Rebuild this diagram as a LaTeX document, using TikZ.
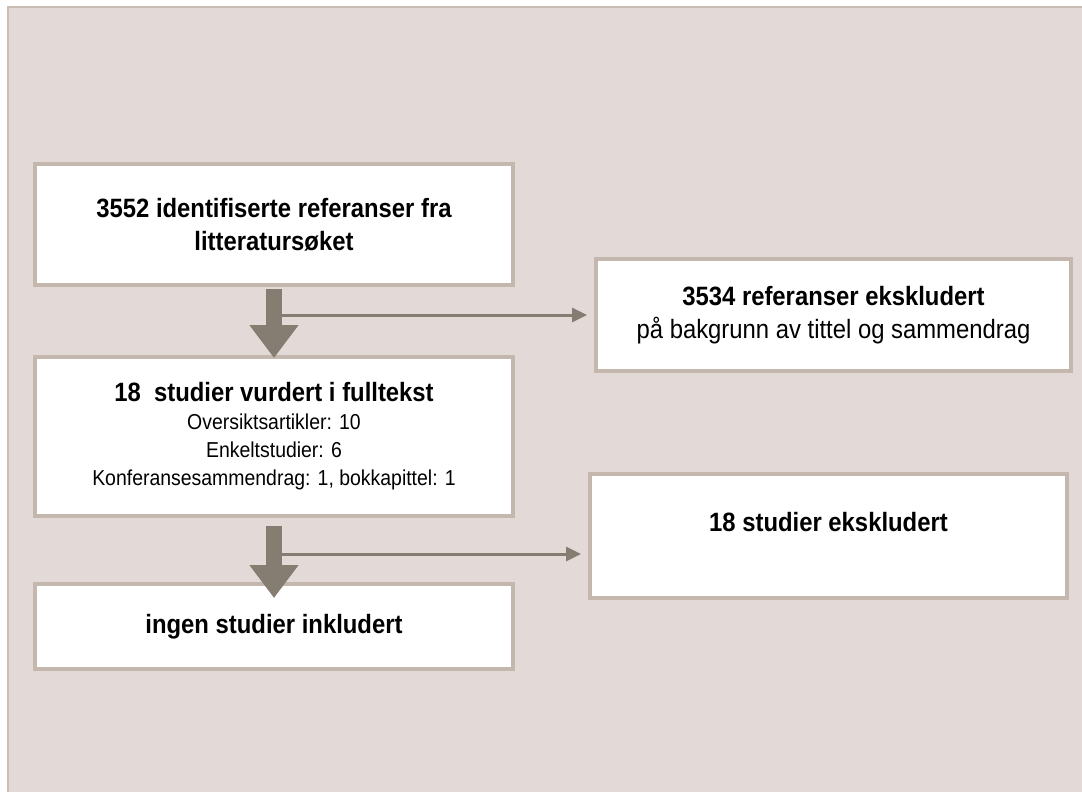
\documentclass[tikz,border=0pt]{standalone}
\usepackage{fontspec}
\setmainfont{Liberation Sans}[FakeStretch=0.9]
\usetikzlibrary{arrows.meta}
\definecolor{bgtaupe}{HTML}{E3DAD7}
\definecolor{rimtaupe}{HTML}{C4B7AD}
\definecolor{frametaupe}{HTML}{C9BDB5}
\definecolor{arrowgrey}{HTML}{857D71}
\begin{document}
\begin{tikzpicture}[x=1pt,y=-1pt,
    box/.style={draw=rimtaupe,line width=4pt,fill=white,align=center,inner sep=0pt},
    big/.style={font=\bfseries\fontsize{26.5}{33}\selectfont},
    fat/.style={arrowgrey,line width=16pt,-{Triangle[width=47pt,length=33pt]}},
    thin/.style={arrowgrey,line width=3pt,-{Triangle[width=14pt,length=15pt]}}]
\useasboundingbox (0,0) rectangle (1082,792);
\fill[white] (0,0) rectangle (1082,792);
\fill[bgtaupe] (8,7) rectangle (1082,792);
\draw[frametaupe,line width=2pt] (8,792) -- (8,7) -- (1082,7);
% left column
\node[box,big,minimum width=478pt,minimum height=121pt] (search) at (274,224.5)
    {3552 identifiserte referanser fra\\litteratursøket};
\node[box,minimum width=478pt,minimum height=159pt,font=\fontsize{21.6}{28}\selectfont] (fulltext) at (274,436.5)
    {{\bfseries\fontsize{26.5}{29}\selectfont 18\ \ studier vurdert i fulltekst}\\
     Oversiktsartikler: 10\\Enkeltstudier: 6\\Konferansesammendrag: 1, bokkapittel: 1};
\node[box,big,minimum width=478pt,minimum height=85pt] (included) at (274,626.5)
    {ingen studier inkludert};
% right column
\node[box,minimum width=475pt,minimum height=112pt,font=\fontsize{26.5}{33}\selectfont] (screenout) at (833.5,315)
    {\textbf{3534 referanser ekskludert}\\på bakgrunn av tittel og sammendrag};
\node[box,minimum width=477pt,minimum height=124pt] (textout) at (828.5,536) {};
\node[big,anchor=base] (textoutlbl) at ([yshift=-59pt]textout.north) {18 studier ekskludert};
% arrows
\coordinate (fork1) at ([yshift=-28pt]search.south);
\coordinate (fork2) at ([yshift=-36pt]fulltext.south);
\draw[thin,shorten >=7pt] (fork1) -- (fork1 -| screenout.west);
\draw[thin,shorten >=7pt] (fork2) -- (fork2 -| textout.west);
\draw[fat,shorten <=2pt,shorten >=-3pt] (search.south) -- (fulltext.north);
\draw[fat,shorten <=8pt,shorten >=-16pt] (fulltext.south) -- (included.north);
\end{tikzpicture}
\end{document}
